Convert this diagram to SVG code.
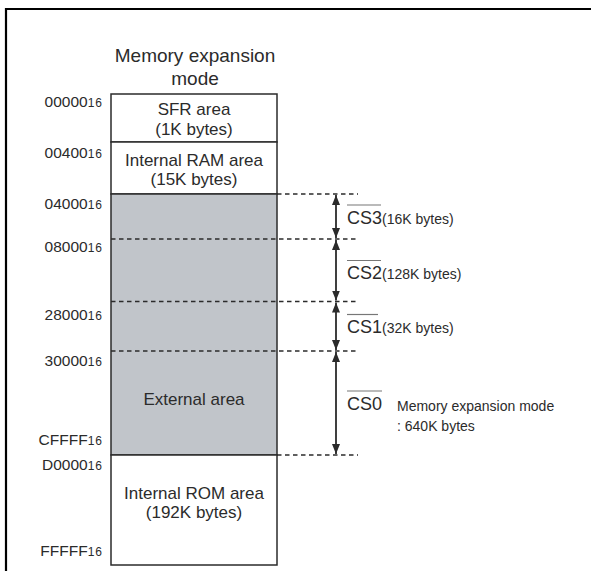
<svg xmlns="http://www.w3.org/2000/svg" width="591" height="571" viewBox="0 0 591 571">
<style>
text{font-family:"Liberation Sans",Arial,sans-serif;fill:#2b2b2b}
.t{font-size:19px;text-anchor:middle}
.b{font-size:17px;text-anchor:middle}
.a{font-size:15.5px;text-anchor:end}
.s{font-size:12px;letter-spacing:1px}
.cs{font-size:18px}
.n{font-size:14px}
.box{stroke:#2b2b2b;stroke-width:1.5}
.d{stroke:#2b2b2b;stroke-width:1.3;stroke-dasharray:4.5 3.5;fill:none}
.arr{stroke:#2b2b2b;stroke-width:1.8;fill:none;marker-start:url(#h);marker-end:url(#h)}
.ol{stroke:#777;stroke-width:1.2}
</style>
<defs>
<marker id="h" viewBox="0 0 10 10" refX="10" refY="5" markerWidth="10" markerHeight="10" markerUnits="userSpaceOnUse" orient="auto-start-reverse">
<path d="M0,1 L10,5 L0,9 Z" fill="#2b2b2b"/>
</marker>
</defs>
<rect width="591" height="571" fill="#fff"/>
<g id="frame">
<line x1="6" y1="9" x2="591" y2="9" stroke="#000" stroke-width="2.2"/>
<line x1="6" y1="8" x2="6" y2="571" stroke="#000" stroke-width="2.2"/>
</g>
<g id="title">
<text class="t" x="195" y="62">Memory expansion</text>
<text class="t" x="195" y="85">mode</text>
</g>
<g id="sfr">
<rect class="box" x="111" y="94" width="166" height="48" fill="#fff"/>
<text class="b" x="194" y="115">SFR area</text>
<text class="b" x="194" y="135">(1K bytes)</text>
</g>
<g id="ram">
<rect class="box" x="111" y="142" width="166" height="52" fill="#fff"/>
<text class="b" x="194" y="166">Internal RAM area</text>
<text class="b" x="194" y="185">(15K bytes)</text>
</g>
<g id="external">
<rect class="box" x="111" y="194" width="166" height="261" fill="#c1c5ca"/>
<text class="b" x="194" y="405">External area</text>
</g>
<g id="rom">
<rect class="box" x="111" y="455" width="166" height="110" fill="#fff"/>
<text class="b" x="194" y="499">Internal ROM area</text>
<text class="b" x="194" y="518">(192K bytes)</text>
</g>
<g id="addresses">
<text class="a" x="103" y="107">00000<tspan class="s">16</tspan></text>
<text class="a" x="103" y="158">00400<tspan class="s">16</tspan></text>
<text class="a" x="103" y="209">04000<tspan class="s">16</tspan></text>
<text class="a" x="103" y="252">08000<tspan class="s">16</tspan></text>
<text class="a" x="103" y="320">28000<tspan class="s">16</tspan></text>
<text class="a" x="103" y="366">30000<tspan class="s">16</tspan></text>
<text class="a" x="103" y="445">CFFFF<tspan class="s">16</tspan></text>
<text class="a" x="103" y="470">D0000<tspan class="s">16</tspan></text>
<text class="a" x="103" y="556">FFFFF<tspan class="s">16</tspan></text>
</g>
<g id="connectors">
<line class="d" x1="277" y1="194" x2="358" y2="194"/>
<line class="d" x1="111" y1="239" x2="358" y2="239"/>
<line class="d" x1="111" y1="301.5" x2="358" y2="301.5"/>
<line class="d" x1="111" y1="351" x2="358" y2="351"/>
<line class="d" x1="277" y1="455" x2="358" y2="455"/>
<line class="arr" x1="336" y1="195" x2="336" y2="238"/>
<line class="arr" x1="336" y1="240" x2="336" y2="300.5"/>
<line class="arr" x1="336" y1="302.5" x2="336" y2="350"/>
<line class="arr" x1="336" y1="352" x2="336" y2="454"/>
</g>
<g id="cs3">
<line class="ol" x1="347" y1="205" x2="381" y2="205"/>
<text class="cs" x="347" y="224">CS3<tspan class="n">(16K bytes)</tspan></text>
</g>
<g id="cs2">
<line class="ol" x1="347" y1="260.5" x2="381" y2="260.5"/>
<text class="cs" x="347" y="279">CS2<tspan class="n">(128K bytes)</tspan></text>
</g>
<g id="cs1">
<line class="ol" x1="347" y1="314.5" x2="378" y2="314.5"/>
<text class="cs" x="347" y="333">CS1<tspan class="n">(32K bytes)</tspan></text>
</g>
<g id="cs0">
<line class="ol" x1="347" y1="391" x2="382" y2="391"/>
<text class="cs" x="347" y="410">CS0</text>
<text class="n" x="397" y="411">Memory expansion mode</text>
<text class="n" x="397" y="431">: 640K bytes</text>
</g>
</svg>
